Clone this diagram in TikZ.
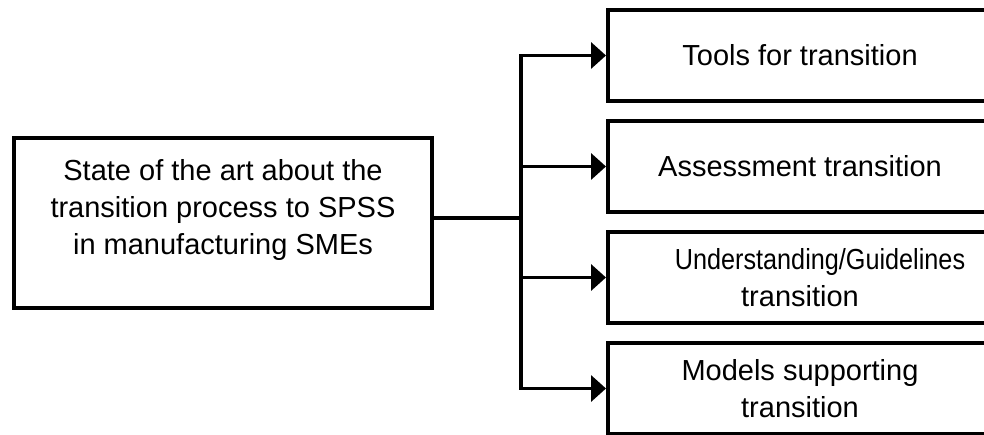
\documentclass[tikz,border=0pt]{standalone}
\usepackage{graphicx}
\usepackage{fontspec}
\setmainfont{Liberation Sans}
\usetikzlibrary{positioning}
\usetikzlibrary{arrows.meta}

\begin{document}
\begin{tikzpicture}[x=1pt, y=1pt, node distance={16pt}, font=\fontsize{29}{37}\selectfont,
    box/.style = {draw, line width=4pt, align=center, minimum width=384pt, minimum height=91pt, inner sep=0pt},
    link/.style = {line width=3.5pt},
    arr/.style = {link, -{Triangle[length=15pt, width=26pt]}}]
  \useasboundingbox (0,0) rectangle (984,434);
  % source box on the left
  \node[box, minimum width=418pt, minimum height=170pt,
        label={[align=center, yshift=13pt]center:{State of the art about the\\transition process to SPSS\\in manufacturing SMEs}}] (state) at (223,211) {};
  % column of topics
  \node[box] (tools) at (800,378.5) {Tools for transition};
  \node[box] (assess) [below=of tools] {Assessment transition};
  \node[box] (guide) [below=of assess] {\hspace*{40pt}\scalebox{0.87}[1]{Understanding/Guidelines}\\transition};
  \node[box] (models) [below=of guide] {Models supporting\\transition};
  % branching connectors
  \coordinate (fork) at (521,216);
  \draw[link] (state.east |- fork) -- (fork);
  \draw[arr] (fork) |- (tools.west);
  \draw[arr] (fork) |- (assess.west);
  \draw[arr] (fork) |- (guide.west);
  \draw[arr] (fork) |- (models.west);
\end{tikzpicture}
\end{document}
